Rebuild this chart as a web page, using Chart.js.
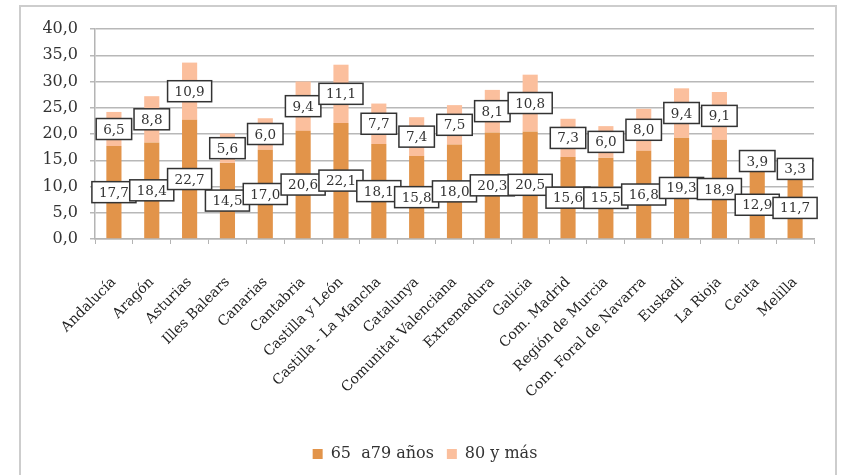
<!DOCTYPE html>
<html lang="es">
<head>
  <meta charset="UTF-8" />
  <title>Población mayor por comunidad</title>
  <script src="https://cdn.jsdelivr.net/npm/chart.js"></script>
  <style>
    body {
      margin: 0;
      background: #fff;
    }
    .wrap {
      position: relative;
      width: 843px;
      height: 475px;
      overflow: hidden;
    }
    .frame {
      position: absolute;
      left: 19px;
      top: 5px;
      width: 814px;
      height: 480px;
      border: 2px solid #cdcdcd;
    }
    canvas {
      position: absolute;
      left: 0;
      top: 0;
    }
  </style>
</head>
<body>
  <div class="wrap">
    <div class="frame"></div>
    <canvas id="chart" width="843" height="475"></canvas>
  </div>
  <script>
    const regions = [
      "Andalucía", "Aragón", "Asturias", "Illes Balears", "Canarias", "Cantabria",
      "Castilla y León", "Castilla - La Mancha", "Catalunya", "Comunitat Valenciana",
      "Extremadura", "Galicia", "Com. Madrid", "Región de Murcia",
      "Com. Foral de Navarra", "Euskadi", "La Rioja", "Ceuta", "Melilla"
    ];
    const age65to79 = [17.7, 18.4, 22.7, 14.5, 17.0, 20.6, 22.1, 18.1, 15.8, 18.0, 20.3, 20.5, 15.6, 15.5, 16.8, 19.3, 18.9, 12.9, 11.7];
    const age80plus = [6.5, 8.8, 10.9, 5.6, 6.0, 9.4, 11.1, 7.7, 7.4, 7.5, 8.1, 10.8, 7.3, 6.0, 8.0, 9.4, 9.1, 3.9, 3.3];
    const seriesNames = ["65  a79 años", "80 y más"];

    const serif = "'DejaVu Serif', 'Liberation Serif', serif";
    const fmt = v => v.toFixed(1).replace('.', ',');

    // boxed value labels in the middle of each segment
    const boxLabels = {
      id: 'boxLabels',
      afterDatasetsDraw(chart) {
        const ctx = chart.ctx;
        ctx.save();
        ctx.font = "13.5px " + serif;
        ctx.textAlign = 'center';
        ctx.textBaseline = 'middle';
        chart.data.datasets.forEach((ds, i) => {
          chart.getDatasetMeta(i).data.forEach((el, j) => {
            const txt = fmt(ds.data[j]);
            const x = el.x;
            const y = (el.y + el.base) / 2;
            const w = ctx.measureText(txt).width + 14;
            const h = 21;
            ctx.fillStyle = '#fff';
            ctx.fillRect(x - w / 2, y - h / 2, w, h);
            ctx.strokeStyle = '#333';
            ctx.lineWidth = 1.5;
            ctx.strokeRect(x - w / 2, y - h / 2, w, h);
            ctx.fillStyle = '#333';
            ctx.fillText(txt, x, y + 1);
          });
        });
        ctx.restore();
      }
    };

    Chart.defaults.color = '#333';
    Chart.defaults.font.family = serif;

    new Chart(document.getElementById('chart'), {
      type: 'bar',
      data: {
        labels: regions,
        datasets: [
          {
            label: seriesNames[0],
            data: age65to79,
            backgroundColor: '#e2944a',
            barPercentage: 0.8,
            categoryPercentage: 0.5
          },
          {
            label: seriesNames[1],
            data: age80plus,
            backgroundColor: '#fbbf9d',
            barPercentage: 0.8,
            categoryPercentage: 0.5
          }
        ]
      },
      options: {
        responsive: false,
        animation: false,
        layout: {
          padding: { left: 36, right: 29, top: 29, bottom: 3 }
        },
        scales: {
          x: {
            stacked: true,
            grid: {
              drawOnChartArea: false,
              color: '#b4b4b4',
              tickLength: 5
            },
            border: { color: '#b4b4b4', width: 1.5 },
            ticks: {
              minRotation: 45,
              maxRotation: 45,
              padding: 30,
              color: '#222',
              font: { size: 14 }
            },
            afterFit: s => { s.height = 194; }
          },
          y: {
            stacked: true,
            min: 0,
            max: 40,
            grid: {
              color: '#b8b8b8',
              lineWidth: 1.5,
              tickLength: 5
            },
            border: { color: '#b4b4b4', width: 1.5 },
            ticks: {
              stepSize: 5,
              padding: 12,
              color: '#333',
              font: { size: 16 },
              callback: v => fmt(v)
            },
            afterFit: s => { s.width = 59; }
          }
        },
        plugins: {
          legend: {
            position: 'bottom',
            labels: {
              boxWidth: 10,
              boxHeight: 10,
              padding: 13,
              color: '#333',
              font: { size: 16 }
            }
          },
          tooltip: { enabled: false }
        }
      },
      plugins: [boxLabels]
    });
  </script>
</body>
</html>
